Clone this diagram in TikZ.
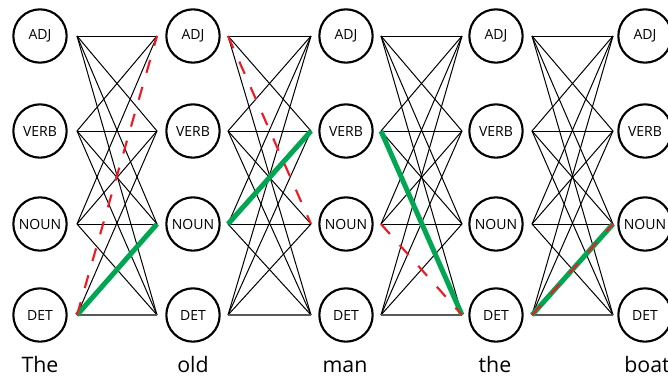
\documentclass[tikz,border=0pt]{standalone}
\usepackage{fontspec}
\setmainfont{Open Sans}
\begin{document}
\begin{tikzpicture}[x=0.75pt,y=-0.75pt,
 tag/.style={circle,draw,line width=1.6pt,minimum size=40pt,inner sep=0pt,font=\fontsize{10.5}{12}\selectfont},
 word/.style={font=\fontsize{16}{19}\selectfont,anchor=base,inner sep=0pt},
 edge/.style={line width=0.75pt},
 base/.style={line width=1pt,draw=black!65},
 best/.style={line width=3.75pt,draw={rgb,255:red,0;green,166;blue,81}},
 alt/.style={line width=1.6pt,draw={rgb,255:red,237;green,28;blue,36},dash pattern=on 10pt off 11pt}]
\useasboundingbox (0,0) rectangle (668,376);
\clip (0,0) rectangle (668,376);
\foreach \c/\x/\lo/\ro in {1/40/36/37, 2/193/36/35, 3/346/35/35, 4/496/34/36, 5/645/32/0}{
 \foreach \r/\y/\t in {1/36/ADJ, 2/131/VERB, 3/224/NOUN, 4/315/DET}{
   \node[tag] (n\c\r) at (\x,\y) {\t};
   \coordinate (l\c\r) at (\x-\lo,\y);
   \coordinate (r\c\r) at (\x+\ro,\y);
 }}
\foreach \c/\d in {1/2,2/3,3/4,4/5}
 \foreach \i in {1,...,4}
  \foreach \j in {1,...,4}{
   \pgfmathtruncatemacro{\code}{\c*100+\i*10+\j}
   \ifnum\code=141 \else\ifnum\code=213 \else\ifnum\code=334 \else
   \ifnum\i\j=44 \draw[base] (r\c\i) -- (l\d\j);
   \else \draw[edge] (r\c\i) -- (l\d\j);
   \fi
   \fi\fi\fi
  }
\draw[best] (r14) -- (l23);
\draw[best] (r23) -- (l32);
\draw[best] (r32) -- (l44);
\draw[best] (r44) -- (l53);
\draw[alt] (r14) -- (l21);
\draw[alt] (r21) -- (l33);
\draw[alt] (r33) -- (l44);
\draw[alt] (r44) -- (l53);
\node[word] (w1) at (40,372) {The};
\node[word] (w2) at (193,372) {old};
\node[word] (w3) at (345,372) {man};
\node[word] (w4) at (495,372) {the};
\node[word] (w5) at (647,372) {boat};
\end{tikzpicture}
\end{document}
